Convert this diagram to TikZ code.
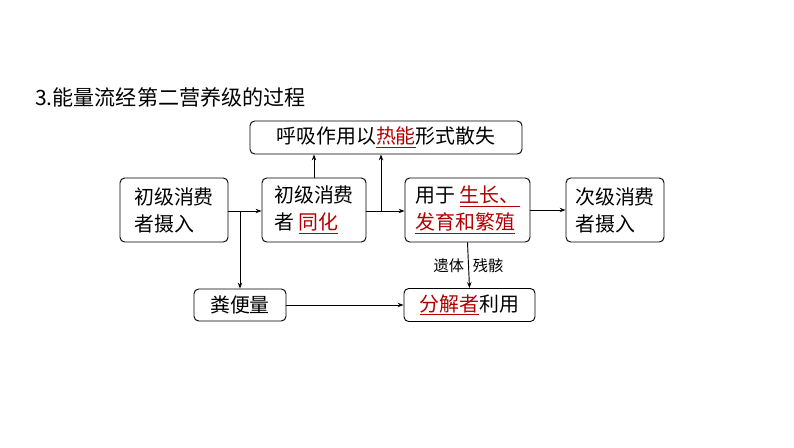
\documentclass[tikz,border=0pt]{standalone}
\usepackage{fontspec}
\setmainfont{Noto Sans CJK SC}
\usetikzlibrary{arrows.meta}
\newcommand{\hl}[1]{\textcolor{red!70!black}{\underline{#1}}}
\begin{document}
\begin{tikzpicture}[x=0.03cm,y=-0.03cm,
    every node/.style={font=\fontsize{17}{23}\selectfont},
    box/.style={draw, rounded corners=4pt, thick, inner sep=2pt, align=left},
    arr/.style={-{Stealth[length=5pt]}, thick}]
    \useasboundingbox (0,0) rectangle (794,447);
    \node[anchor=west,font=\fontsize{18}{20}\selectfont] (title) at (31,97) {3.能量流经第二营养级的过程};

    \node[box, minimum width=272*0.03cm, minimum height=33*0.03cm] (heat) at (386,137.5) {呼吸作用以\hl{热能}形式散失};
    \node[box, minimum width=108*0.03cm, minimum height=64*0.03cm] (eat1) at (174,210) {初级消费\\者摄入};
    \node[box, minimum width=104*0.03cm, minimum height=64*0.03cm] (assim) at (314,210) {初级消费\\者 \hl{同化}};
    \node[box, minimum width=125*0.03cm, minimum height=64*0.03cm] (grow) at (467.5,210) {用于 \hl{生长、}\\\hl{发育和繁殖}};
    \node[box, minimum width=98*0.03cm, minimum height=64*0.03cm] (eat2) at (615,210) {次级消费\\者摄入};
    \node[box, minimum width=92*0.03cm, minimum height=32*0.03cm] (feces) at (240,305) {粪便量};
    \node[box, minimum width=131*0.03cm, minimum height=33*0.03cm] (decomp) at (469.5,305) {\hl{分解者}利用};

    \coordinate (j1) at (240,211);
    \coordinate (j2) at (381,211);

    \draw[arr] (eat1.east |- j1) -- (assim.west |- j1);
    \draw[arr] (j1) -- (feces.north);
    \draw[arr] (assim.north) -- (assim.north |- heat.south);
    \draw[arr] (assim.east |- j2) -- (grow.west |- j2);
    \draw[arr] (j2) -- (j2 |- heat.south);
    \draw[arr] (grow.east) -- (eat2.west);
    \draw[arr] (grow.south) -- node[left,font=\fontsize{13}{15}\selectfont] {遗体} node[right,font=\fontsize{13}{15}\selectfont] {残骸} (decomp.north);
    \draw[arr] (feces.east) -- (decomp.west);
\end{tikzpicture}
\end{document}
